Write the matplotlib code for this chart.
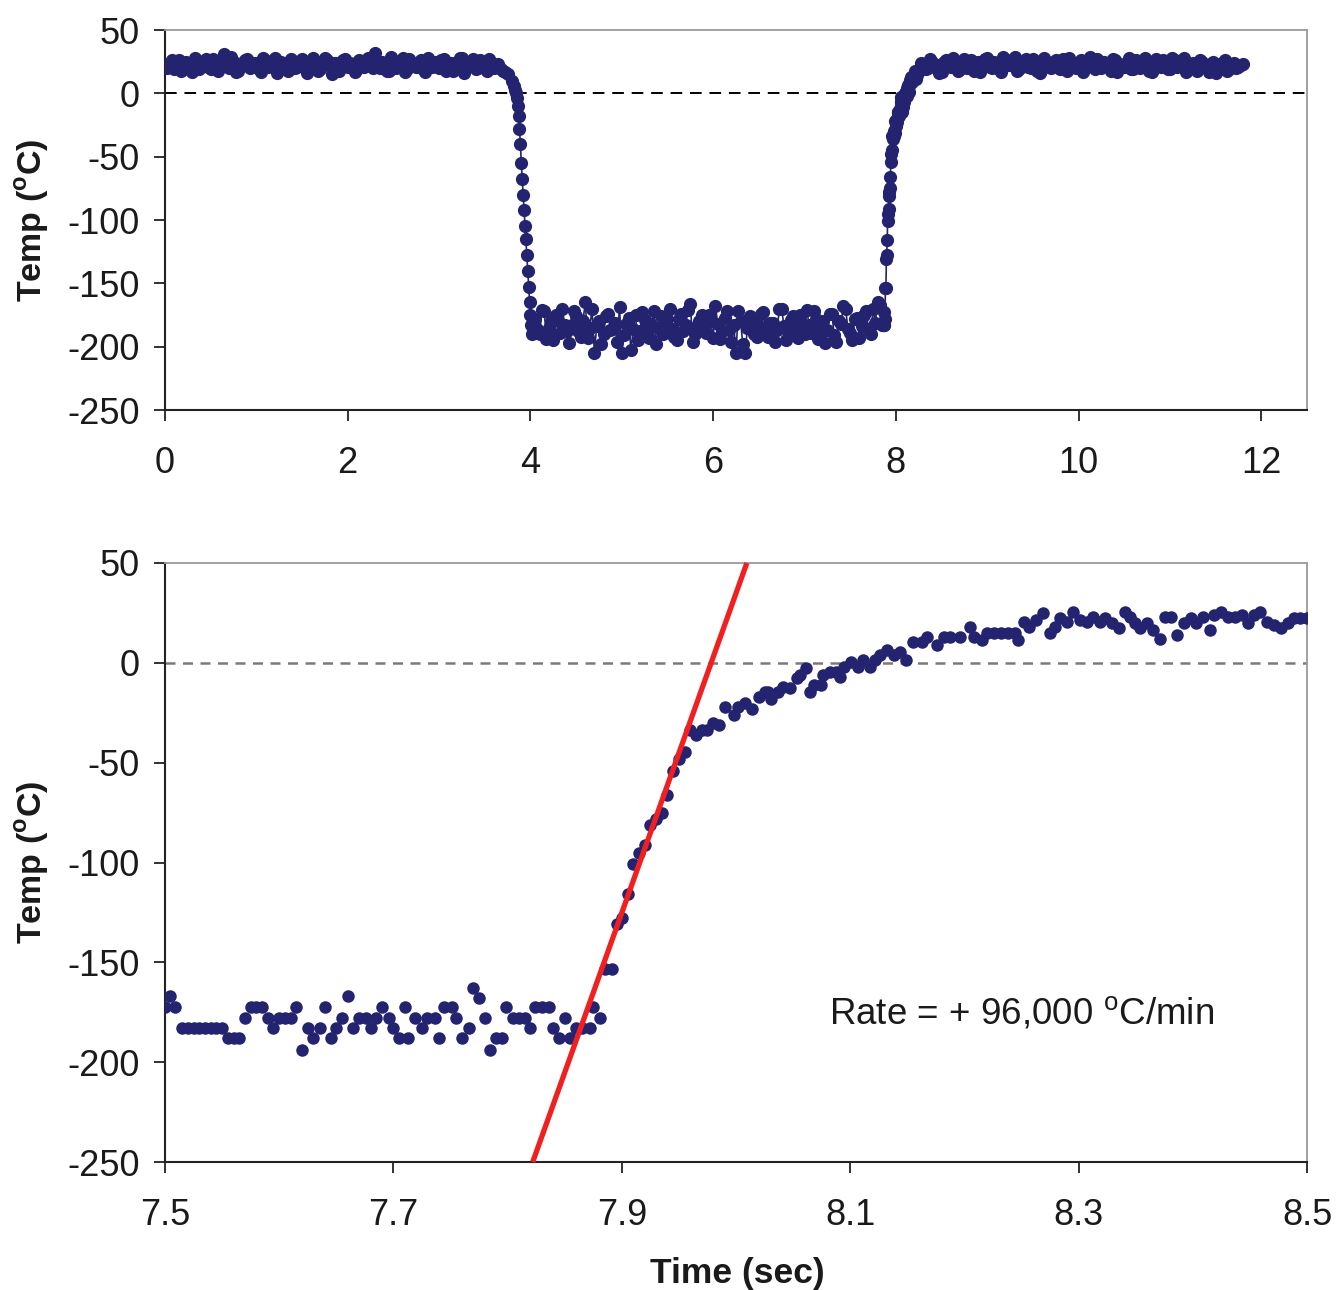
import numpy as np
import matplotlib
matplotlib.use("Agg")
import matplotlib.pyplot as plt

plt.rcParams['font.family'] = ['Liberation Sans', 'DejaVu Sans']
plt.rcParams['mathtext.fontset'] = 'custom'
plt.rcParams['mathtext.rm'] = 'Liberation Sans'
plt.rcParams['mathtext.bf'] = 'Liberation Sans:bold'
plt.rcParams['axes.unicode_minus'] = False

# ---------------- data: top panel (full run) ----------------
top_step_coarse = 0.05
top_step_fine = 0.01

top_warm1_start = 0.00
top_warm1_T = [22, 24, 19, 26, 21, 23, 17, 25, 22, 27,
               19, 24, 21, 31, 20, 25, 18, 23, 27, 21,
               24, 17, 26, 22, 28, 20, 23, 18, 25, 21,
               27, 16, 22, 25, 19, 28, 22, 24, 18, 26,
               21, 23, 19, 25, 22, 27, 32, 20, 24, 18,
               26, 22, 28, 19, 24, 21, 26, 17, 23, 25,
               20, 27, 22, 18, 25, 28, 21, 24, 19, 26,
               22, 27, 20, 23, 18, 15, 10]
top_warm1b_start = 0.025
top_warm1b_T = [20, 26, 23, 18, 25, 22, 28, 19, 24, 21,
                27, 18, 23, 25, 29, 17, 22, 26, 20, 24,
                19, 28, 21, 24, 16, 25, 22, 27, 20, 23,
                25, 20, 28, 18, 23, 26, 15, 24, 21, 27,
                24, 17, 26, 21, 28, 20, 23, 25, 18, 29,
                20, 24, 17, 27, 22, 25, 19, 28, 21, 23,
                26, 18, 24, 21, 28, 16, 23, 27, 20, 25,
                18, 24, 21, 19, 17]

top_fall_start = 3.82
top_fall_T = [6, 3, 0, -4, -10, -18, -28, -40, -55, -68, -80,
              -92, -105, -115, -128, -140, -153, -165, -175, -183, -190]

top_cold_start = 4.05
top_cold_T = [-178, -190, -172, -185, -195, -180, -170, -188, -183, -176,
              -192, -165, -185, -205, -180, -190, -174, -186, -196, -205,
              -182, -203, -175, -188, -179, -193, -172, -185, -190, -178,
              -186, -195, -174, -183, -166, -190, -180, -187, -175, -193,
              -182, -188, -172, -196, -205, -180, -205, -176, -190, -184,
              -173, -192, -181, -187, -170, -195, -179, -185, -175, -190,
              -183, -172, -194, -180, -187, -174, -196, -182, -170, -189,
              -178, -193, -175, -186, -170, -165, -183]
top_coldb_start = 4.075
top_coldb_T = [-186, -171, -194, -180, -175, -189, -183, -197, -172, -188,
               -180, -193, -170, -184, -198, -176, -187, -181, -169, -191,
               -177, -186, -195, -173, -189, -182, -198, -176, -185, -170,
               -192, -178, -188, -171, -196, -184, -175, -189, -180, -168,
               -194, -177, -187, -183, -172, -198, -185, -179, -192, -174,
               -188, -181, -196, -170, -184, -190, -176, -193, -182, -171,
               -189, -178, -185, -197, -174, -191, -180, -168, -186, -195,
               -177, -184, -172, -190, -181, -167]

top_warm2_start = 8.25
top_warm2_T = [18, 23, 20, 25, 22, 17, 26, 21, 24, 19,
               27, 22, 18, 25, 23, 28, 20, 24, 17, 26,
               22, 29, 19, 24, 21, 27, 18, 25, 23, 20,
               26, 19, 23, 28, 21, 24, 17, 25, 22, 27,
               20, 24, 18, 26, 23, 21, 28, 19, 25, 22,
               24, 17, 27, 21, 23, 19, 26, 22, 28, 20,
               24, 18, 25, 21, 23, 16, 22, 26, 19, 24,
               21, 23]
top_warm2b_start = 8.275
top_warm2b_T = [24, 19, 27, 21, 16, 25, 22, 28, 18, 23,
                20, 26, 24, 17, 27, 21, 25, 19, 29, 22,
                26, 18, 24, 27, 20, 23, 16, 28, 21, 25,
                22, 27, 18, 24, 20, 26, 23, 29, 19, 21,
                25, 21, 27, 17, 22, 24, 19, 26, 20, 28,
                18, 25, 22, 26, 19, 28, 21, 24, 17, 23,
                20, 26, 22, 17, 25, 21, 24, 18, 23, 20,
                22]

# ---------------- data: bottom panel (zoom on re-warming) ----------------
zoom_t = [7.500, 7.504, 7.509, 7.515, 7.520, 7.525, 7.530, 7.535, 7.540, 7.545,
          7.550, 7.555, 7.560, 7.565, 7.570, 7.575, 7.580, 7.585, 7.590, 7.595,
          7.600, 7.605, 7.610, 7.615, 7.620, 7.625, 7.630, 7.636, 7.640, 7.645,
          7.650, 7.655, 7.660, 7.665, 7.670, 7.676, 7.680, 7.685, 7.690, 7.696,
          7.700, 7.705, 7.710, 7.713, 7.719, 7.725, 7.729, 7.736, 7.740, 7.744,
          7.751, 7.755, 7.760, 7.766, 7.770, 7.775, 7.780, 7.785, 7.790, 7.795,
          7.799, 7.805, 7.810, 7.815, 7.820, 7.824, 7.830, 7.836, 7.840, 7.845,
          7.850, 7.855, 7.860, 7.865, 7.872, 7.875, 7.881, 7.885, 7.891, 7.896,
          7.900, 7.905, 7.910, 7.915, 7.920, 7.925, 7.930, 7.935, 7.940, 7.945,
          7.950, 7.955, 7.960, 7.965, 7.970, 7.975, 7.980, 7.985, 7.990, 7.998,
          8.002, 8.008, 8.014, 8.020, 8.025, 8.028, 8.031, 8.037, 8.041, 8.047,
          8.053, 8.056, 8.061, 8.065, 8.068, 8.074, 8.076, 8.082, 8.088, 8.091,
          8.095, 8.101, 8.107, 8.111, 8.117, 8.122, 8.126, 8.132, 8.138, 8.144,
          8.149, 8.155, 8.163, 8.167, 8.176, 8.182, 8.187, 8.196, 8.205, 8.208,
          8.215, 8.220, 8.226, 8.232, 8.238, 8.244, 8.247, 8.252, 8.257, 8.263,
          8.269, 8.275, 8.279, 8.284, 8.290, 8.295, 8.301, 8.307, 8.313, 8.319,
          8.323, 8.329, 8.335, 8.341, 8.345, 8.349, 8.354, 8.360, 8.365, 8.371,
          8.376, 8.381, 8.386, 8.392, 8.398, 8.403, 8.409, 8.415, 8.419, 8.425,
          8.431, 8.437, 8.443, 8.448, 8.454, 8.459, 8.465, 8.471, 8.477, 8.483,
          8.489, 8.494, 8.500]
zoom_T = [-172.5, -167, -172.5, -183, -183, -183, -183, -183, -183, -183,
          -183, -188, -188, -188, -178, -172.5, -172.5, -172.5, -178, -183,
          -178, -178, -178, -172.5, -194, -183, -188, -183, -172.5, -188,
          -183, -178, -167, -183, -178, -178, -183, -178, -172.5, -178,
          -183, -188, -172.5, -188, -178, -183, -178, -178, -188, -172.5,
          -172.5, -178, -188, -183, -163, -168, -178, -194, -188, -188,
          -172.5, -178, -178, -178, -183, -172.5, -172.5, -172.5, -183, -188,
          -178, -188, -183, -183, -183, -172.5, -178, -153.5, -153.5, -131,
          -128, -116, -101, -95, -91, -81, -78, -75, -66, -54,
          -48, -44.5, -33.5, -36, -33.5, -33.5, -30, -31, -22, -26,
          -22, -20, -23, -17, -14.5, -14.5, -18, -14.5, -12, -12.7,
          -7.7, -6, -2.7, -14.4, -11, -11, -6, -4.4, -4.4, -7,
          -2, 0.6, -2, 1.4, -2, 1.4, 4, 6.4, 4, 5.6,
          1.4, 10.6, 10.6, 13, 9, 13, 13, 13, 18, 13,
          11.4, 14.8, 14.8, 14.8, 14.8, 14.8, 11.4, 20.6, 18, 21.5,
          25, 14.8, 18, 22.3, 20.6, 25.6, 21.5, 20.6, 23, 20.6,
          22.3, 19.8, 17.3, 25.6, 23, 19.8, 17.3, 19.8, 16.5, 11.8,
          23, 23, 14, 19.8, 22.3, 19.8, 23, 16.5, 24, 25.6,
          23, 23, 24, 19.8, 24, 25.6, 20.6, 19, 17.3, 19.8,
          22.3, 22.3, 22.3]

# linear fit of the heating ramp (Rate = +96,000 C/min)
fit_t = [7.822, 8.0095]
fit_T = [-250, 50]

top_xticks = [0, 2, 4, 6, 8, 10, 12]
zoom_xticks = [7.5, 7.7, 7.9, 8.1, 8.3, 8.5]
zoom_xticklabels = ['7.5', '7.7', '7.9', '8.1', '8.3', '8.5']
yticks = [50, 0, -50, -100, -150, -200, -250]

# ---------------- assemble top-panel series ----------------
def seg(start, step, vals):
    return [(round(start + i * step, 4), v) for i, v in enumerate(vals)]

pairs = (seg(top_warm1_start, top_step_coarse, top_warm1_T)
         + seg(top_warm1b_start, top_step_coarse, top_warm1b_T)
         + seg(top_fall_start, top_step_fine, top_fall_T)
         + seg(top_cold_start, top_step_coarse, top_cold_T)
         + seg(top_coldb_start, top_step_coarse, top_coldb_T)
         + [(t, v) for t, v in zip(zoom_t, zoom_T) if 7.855 < t < 8.23]
         + seg(top_warm2_start, top_step_coarse, top_warm2_T)
         + seg(top_warm2b_start, top_step_coarse, top_warm2b_T))
pairs.sort(key=lambda p: p[0])
top_t = [p[0] for p in pairs]
top_T = [p[1] for p in pairs]

navy = '#23236f'
ink = '#1a1a1a'

fig = plt.figure(figsize=(13.37, 12.90), dpi=100)
ax1 = fig.add_axes([165 / 1337, 1 - 410 / 1290, 1142 / 1337, 380 / 1290])
ax2 = fig.add_axes([165 / 1337, 1 - 1162 / 1290, 1142 / 1337, 599 / 1290])

# top panel
ax1.axhline(0, color='black', lw=1.4, ls=(0, (6, 4)), zorder=1)
ax1.plot(top_t, top_T, color=navy, lw=1.2, marker='o', markersize=9.5,
         markeredgewidth=0, zorder=3)
ax1.set_xlim(0, 12.5)
ax1.set_ylim(-250, 50)
ax1.set_xticks(top_xticks)
ax1.set_yticks(yticks)

# bottom panel
ax2.axhline(0, color='#7a7a7a', lw=1.8, ls=(0, (4, 3)), zorder=1)
ax2.plot(zoom_t, zoom_T, ls='none', color=navy, marker='o', markersize=9,
         markeredgewidth=0, zorder=3)
ax2.plot(fit_t, fit_T, color='#f02020', lw=3.8, zorder=4, solid_capstyle='butt',
         clip_on=False)
ax2.set_xlim(7.5, 8.5)
ax2.set_ylim(-250, 50)
ax2.set_xticks(zoom_xticks)
ax2.set_xticklabels(zoom_xticklabels)
ax2.set_yticks(yticks)
ax2.text(8.081, -176, r'Rate = + 96,000 $^{\mathrm{o}}$C/min', fontsize=26.5,
         va='center', ha='left', color=ink)

for ax in (ax1, ax2):
    ax.spines['left'].set_color('#222222')
    ax.spines['bottom'].set_color('#222222')
    ax.spines['left'].set_linewidth(1.5)
    ax.spines['bottom'].set_linewidth(1.5)
    ax.spines['top'].set_color('#9a9a9a')
    ax.spines['right'].set_color('#9a9a9a')
    ax.spines['top'].set_linewidth(1.3)
    ax.spines['right'].set_linewidth(1.3)
    ax.tick_params(axis='both', direction='out', length=8, width=1.3,
                   color='#222222', labelsize=26, labelcolor=ink)
    ax.tick_params(axis='x', pad=18)
    ax.tick_params(axis='y', pad=10)
    ax.set_ylabel(r'Temp ($^{\mathbf{o}}$C)', fontsize=24.5, fontweight='bold',
                  color=ink)
    ax.yaxis.set_label_coords(-0.100, 0.5)

ax2.set_xlabel('Time (sec)', fontsize=25.5, fontweight='bold', color=ink)
ax2.xaxis.set_label_coords(0.501, -0.158)

fig.savefig('out.png', dpi=100)
